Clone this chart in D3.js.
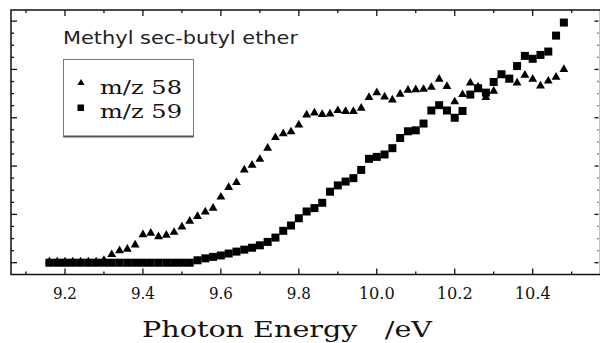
<!DOCTYPE html>
<html>
<head>
	<meta charset="utf-8">
	<title>Methyl sec-butyl ether - photoionization</title>
	<style>
		html, body { margin:0; padding:0; background:#fff; }
		svg { display:block; }
		.frame { fill:none; stroke:#111; stroke-width:1.5px; }
		.tk { stroke:#111; stroke-width:1.3px; }
		.lbl { font-family:"DejaVu Serif", serif; fill:#111; }
		.ttl { font-family:"DejaVu Sans", sans-serif; fill:#222; }
	</style>
	<script src="https://d3js.org/d3.v7.min.js"></script>
</head>
<body>
<svg id="chart"></svg>
<script>

	//photon energy (eV)
	var energy = [9.16,9.18,9.20,9.22,9.24,9.26,9.28,9.30,9.32,9.34,
		9.36,9.38,9.40,9.42,9.44,9.46,9.48,9.50,9.52,9.54,
		9.56,9.58,9.60,9.62,9.64,9.66,9.68,9.70,9.72,9.74,
		9.76,9.78,9.80,9.82,9.84,9.86,9.88,9.90,9.92,9.94,
		9.96,9.98,10.00,10.02,10.04,10.06,10.08,10.10,10.12,10.14,
		10.16,10.18,10.20,10.22,10.24,10.26,10.28,10.30,10.32,10.34,
		10.36,10.38,10.40,10.42,10.44,10.46,10.48];

	//ion signal, arbitrary units (one unit = one major y tick)
	var mz58 = [0.02,0.02,0.02,0.02,0.02,0.02,0.02,0.05,0.17,0.25,
		0.28,0.37,0.58,0.61,0.54,0.57,0.63,0.74,0.86,0.96,
		1.05,1.13,1.36,1.56,1.66,1.92,2.02,2.14,2.37,2.59,
		2.67,2.71,2.85,3.06,3.10,3.07,3.08,3.15,3.13,3.13,
		3.20,3.42,3.52,3.43,3.37,3.49,3.57,3.58,3.59,3.63,
		3.80,3.65,3.33,3.48,3.72,3.64,3.42,3.55,3.88,3.79,
		3.72,3.88,3.80,3.66,3.76,3.84,4.00];

	var mz59 = [0,0,0,0,0,0,0,0,0,0,
		0,0,0,0,0,0,0,0,0,0.05,
		0.09,0.12,0.15,0.19,0.23,0.27,0.31,0.36,0.43,0.52,
		0.66,0.77,0.92,1.06,1.13,1.24,1.47,1.60,1.68,1.75,
		1.92,2.15,2.19,2.24,2.37,2.58,2.72,2.74,2.88,3.15,
		3.26,3.15,3.00,3.14,3.48,3.61,3.52,3.74,3.90,3.81,
		4.07,4.28,4.22,4.30,4.37,4.70,4.97];

	var xTicks = [9.2,9.4,9.6,9.8,10.0,10.2,10.4];
	var xTickLabels = ["9.2","9.4","9.6","9.8","10.0","10.2","10.4"];
	var xMinor = [9.1,9.3,9.5,9.7,9.9,10.1,10.3,10.5];
	var yTicks = [0,1,2,3,4,5];
	var yMinor = [-0.25,0.25,0.5,0.75,1.25,1.5,1.75,2.25,2.5,2.75,3.25,3.5,3.75,4.25,4.5,4.75,5.25];

	var seriesNames = ["m/z 58","m/z 59"];
	var titleText = "Methyl sec-butyl ether";
	var xTitle = "Photon Energy   /eV";

	var W = 600, H = 343;
	var svg = d3.select("#chart").attr("width", W).attr("height", H);

	//plot box (right edge sits just off the picture)
	var box = {l:11, r:600.5, t:10, b:274.5};
	var x = d3.scaleLinear().domain([9.0615, 10.574]).range([box.l, box.r]);
	var y = d3.scaleLinear().domain([-0.244, 5.23]).range([box.b, box.t]);

	var g = svg.append("g");

	//ticks, all pointing inwards
	function vTicks(vals, len){
		vals.forEach(function(v){
			g.append("line").attr("class","tk").attr("x1",x(v)).attr("x2",x(v)).attr("y1",box.b).attr("y2",box.b-len);
			g.append("line").attr("class","tk").attr("x1",x(v)).attr("x2",x(v)).attr("y1",box.t).attr("y2",box.t+len);
		});
	}
	function hTicks(vals, len){
		vals.forEach(function(v){
			if(y(v) > box.b || y(v) < box.t) return;
			g.append("line").attr("class","tk").attr("x1",box.l).attr("x2",box.l+len).attr("y1",y(v)).attr("y2",y(v));
			g.append("line").attr("class","tk").attr("x1",598.5).attr("x2",598.5-len+2).attr("y1",y(v)).attr("y2",y(v));
		});
	}
	vTicks(xTicks, 6);
	vTicks(xMinor, 3);
	hTicks(yTicks, 6);
	hTicks(yMinor, 3);

	g.append("rect").attr("class","frame")
		.attr("x",box.l).attr("y",box.t).attr("width",box.r-box.l).attr("height",box.b-box.t);

	//x tick labels
	g.selectAll("text.xl").data(xTicks).enter().append("text")
		.attr("class","lbl xl")
		.attr("x", function(d){ return x(d); })
		.attr("y", 299)
		.attr("text-anchor","middle")
		.style("font-size","17px")
		.attr("textLength", function(d,i){ return xTickLabels[i].length == 3 ? 24 : 36; })
		.attr("lengthAdjust","spacingAndGlyphs")
		.text(function(d,i){ return xTickLabels[i]; });

	//x title
	g.append("text").attr("class","lbl")
		.attr("x", 142).attr("y", 337)
		.style("font-size","22px").style("white-space","pre")
		.attr("textLength", 290).attr("lengthAdjust","spacingAndGlyphs")
		.text(xTitle);

	//data
	var pts = energy.map(function(e,i){ return {e:e, a:mz58[i], b:mz59[i]}; });
	var tri = d3.symbol().type(d3.symbolTriangle).size(34);

	g.append("g").selectAll("rect").data(pts).enter().append("rect")
		.attr("x", function(d){ return x(d.e)-4; })
		.attr("y", function(d){ return y(d.b)-4; })
		.attr("width",8).attr("height",8)
		.attr("fill","#000");

	g.append("g").selectAll("path").data(pts).enter().append("path")
		.attr("d", tri)
		.attr("transform", function(d){ return "translate("+x(d.e)+","+y(d.a)+")"; })
		.attr("fill","#000");

	//title
	g.append("text").attr("class","ttl")
		.attr("x",63).attr("y",44)
		.style("font-size","17px")
		.attr("textLength",235).attr("lengthAdjust","spacingAndGlyphs")
		.text(titleText);

	//legend
	var lg = g.append("g");
	lg.append("rect").attr("x",63.5).attr("y",59.5).attr("width",130).attr("height",77)
		.attr("fill","#fff").attr("stroke","#777").attr("stroke-width",1);
	lg.append("line").attr("x1",63.5).attr("x2",193.5).attr("y1",136.5).attr("y2",136.5)
		.attr("stroke","#555").attr("stroke-width",2);
	lg.append("path").attr("d", d3.symbol().type(d3.symbolTriangle).size(22))
		.attr("transform","translate(81,83)").attr("fill","#000");
	lg.append("rect").attr("x",77.5).attr("y",104.5).attr("width",6.5).attr("height",6.5).attr("fill","#000");
	seriesNames.forEach(function(s,i){
		lg.append("text").attr("class","lbl")
			.attr("x",100).attr("y",94+i*24)
			.style("font-size","19px")
			.attr("textLength",82).attr("lengthAdjust","spacingAndGlyphs")
			.text(s);
	});

</script>
</body>
</html>
